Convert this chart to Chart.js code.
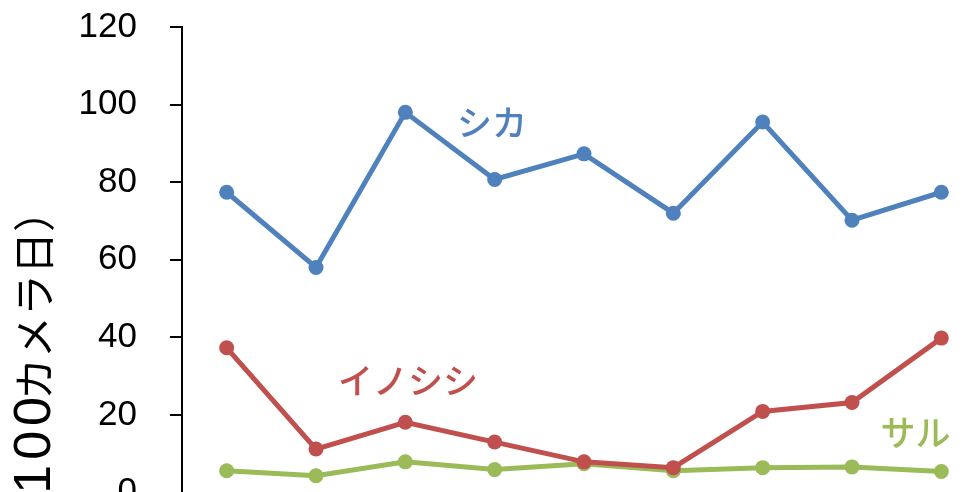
<!DOCTYPE html>
<html>
<head>
<meta charset="utf-8">
<script src="https://cdn.jsdelivr.net/npm/chart.js@4"></script>
<style>
  html, body { margin: 0; padding: 0; overflow: hidden; background: #fff; }
  canvas { display: block; }
</style>
</head>
<body>
<canvas id="chart" width="1000" height="500"></canvas>
<script>
const categories = ['1', '2', '3', '4', '5', '6', '7', '8', '9'];
const shika = [77.4, 58, 98, 80.7, 87.3, 72, 95.5, 70.2, 77.4];
const inoshishi = [37.3, 11.2, 18.1, 13, 7.9, 6.4, 20.9, 23.2, 39.8];
const saru = [5.6, 4.3, 7.9, 5.9, 7.4, 5.6, 6.4, 6.6, 5.4];
const yTicks = [0, 20, 40, 60, 80, 100, 120];
// y title in three pieces (the digits use a latin face)
const yTitleHead = '撮影頻度（/';
const yTitleNum = '100';
const yTitleTail = 'カメラ日）';

// series name labels, placed in data space (category index, value)
const seriesNames = [
    { text: 'シカ', x: 2.97, y: 95.3, color: '#4F81BD' },
    { text: 'イノシシ', x: 2.03, y: 28.9, color: '#C0504D' },
    { text: 'サル', x: 7.71, y: 15.3, color: '#9BBB59' }
];

const labelPlugin = {
    id: 'labels',
    afterDatasetsDraw(chart) {
        const ctx = chart.ctx;
        const xs = chart.scales.x, ys = chart.scales.y;
        ctx.save();
        ctx.font = '500 35px "Noto Sans CJK JP"';
        ctx.textAlign = 'center';
        ctx.textBaseline = 'middle';
        seriesNames.forEach(l => {
            ctx.fillStyle = l.color;
            ctx.fillText(l.text, xs.getPixelForValue(l.x), ys.getPixelForValue(l.y));
        });
        ctx.restore();

        // y axis title, rotated, drawn from its end backwards
        ctx.save();
        ctx.translate(34, 190);
        ctx.rotate(-Math.PI / 2);
        ctx.fillStyle = '#000';
        ctx.textAlign = 'right';
        ctx.textBaseline = 'middle';
        const jp = '42px "Noto Sans CJK JP"';
        ctx.font = jp;
        ctx.fillText(yTitleTail, 0, 0);
        let pos = -ctx.measureText(yTitleTail).width + 8;
        ctx.font = '52px "Liberation Sans"';
        ctx.letterSpacing = '5px';
        ctx.fillText(yTitleNum, pos, 2);
        pos -= ctx.measureText(yTitleNum).width;
        ctx.letterSpacing = '0px';
        ctx.font = jp;
        ctx.fillText(yTitleHead, pos, 0);
        ctx.restore();
    }
};

function ds(label, data, color) {
    return {
        label: label,
        data: data,
        borderColor: color,
        backgroundColor: color,
        borderWidth: 5,
        pointRadius: 7.5,
        pointHoverRadius: 7.5,
        pointBorderWidth: 0,
        tension: 0
    };
}

const ctx = document.getElementById('chart').getContext('2d');
const chart = new Chart(ctx, {
    type: 'line',
    data: {
        labels: categories,
        datasets: [
            ds('シカ', shika, '#4F81BD'),
            ds('イノシシ', inoshishi, '#C0504D'),
            ds('サル', saru, '#9BBB59')
        ]
    },
    options: {
        responsive: false,
        animation: false,
        layout: { padding: { top: 27, right: 14, bottom: 5, left: 0 } },
        plugins: {
            legend: { display: false },
            tooltip: { enabled: false }
        },
        scales: {
            x: {
                display: false,
                offset: true
            },
            y: {
                min: 0,
                max: 120,
                afterBuildTicks: (s) => { s.ticks = yTicks.map(v => ({ value: v })); },
                afterFit: (s) => {
                    s.width = 182;
                    s.paddingTop = 0;
                    s.paddingBottom = 0;
                },
                grid: { drawOnChartArea: false, drawTicks: true, tickLength: 12, color: '#000', lineWidth: 2 },
                border: { display: true, color: '#000', width: 2 },
                ticks: {
                    color: '#000',
                    padding: 33,
                    font: { family: '"Liberation Sans", Arial, sans-serif', size: 35 }
                }
            }
        }
    },
    plugins: [labelPlugin]
});
</script>
</body>
</html>
